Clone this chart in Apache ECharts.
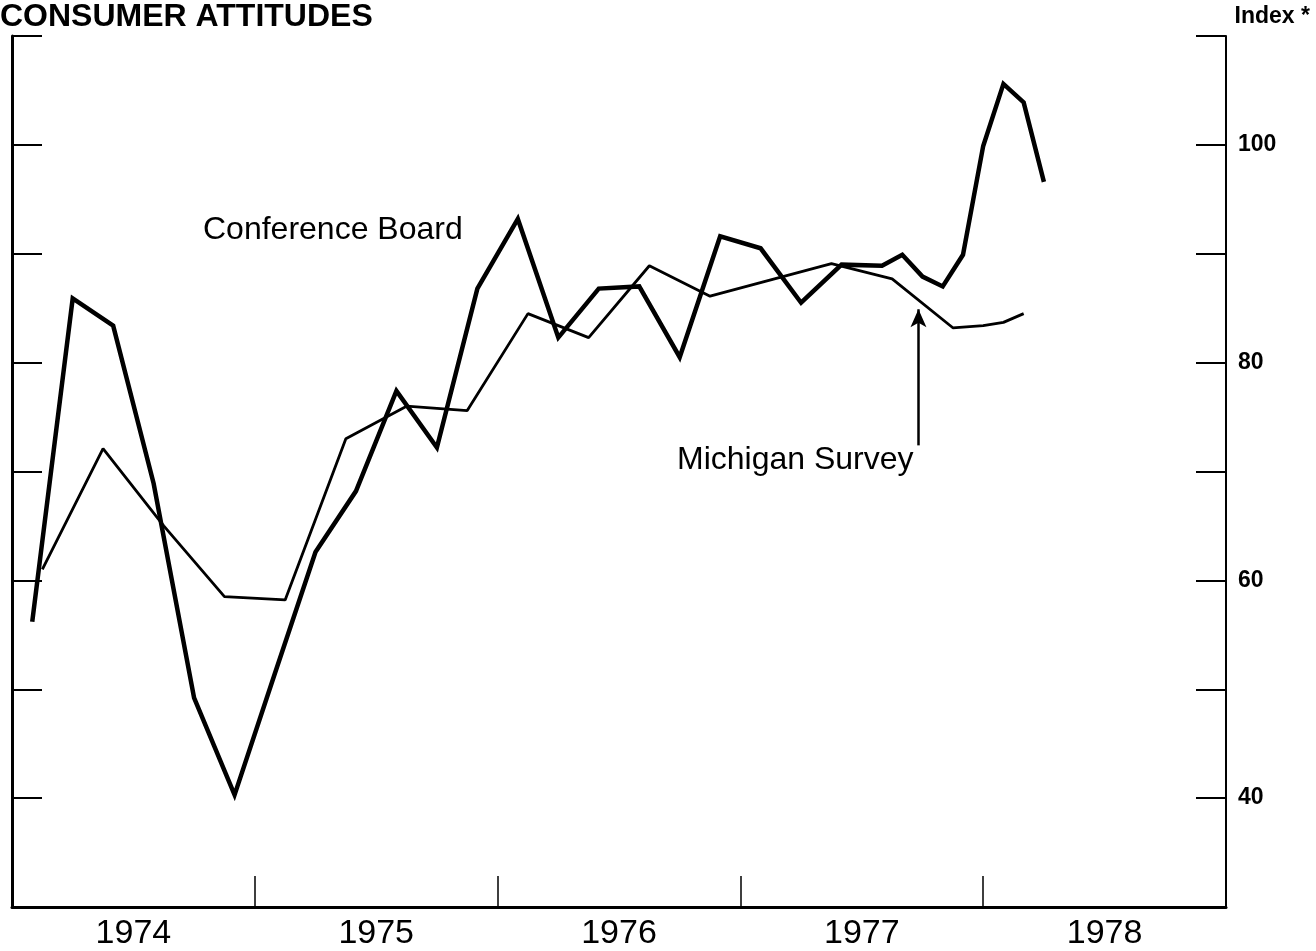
<!DOCTYPE html>
<html>
<head>
<meta charset="utf-8">
<title>Consumer Attitudes</title>
<script src="https://cdn.jsdelivr.net/npm/echarts@6/dist/echarts.min.js"></script>
<style>
  html, body { margin: 0; padding: 0; background: #fff; }
  #chart { width: 1316px; height: 951px; }
</style>
</head>
<body>
<div id="chart"></div>
<script>
// Months since January 1974 (0 = start of 1974)
var cbMonths = [1, 3, 5, 7, 9, 11, 13, 15, 17, 19, 21, 23, 25, 27, 29, 31, 33, 35, 37, 39, 41, 43, 44, 45, 46, 47, 48, 49, 50, 51];
var cbValues = [56.2, 85.9, 83.4, 68.9, 49.2, 40.3, 51.5, 62.6, 68.2, 77.4, 72.2, 86.8, 93.2, 82.3, 86.8, 87.0, 80.5, 91.6, 90.5, 85.5, 89.0, 88.9, 89.9, 87.9, 87.0, 89.9, 99.9, 105.6, 103.9, 96.6];

var miMonths = [1.5, 4.5, 7.5, 10.5, 13.5, 16.5, 19.5, 22.5, 25.5, 28.5, 31.5, 34.5, 37.5, 40.5, 43.5, 46.5, 48, 49, 50];
var miValues = [61.0, 72.1, 65.0, 58.5, 58.2, 73.0, 76.0, 75.6, 84.5, 82.3, 88.9, 86.1, 87.6, 89.1, 87.7, 83.2, 83.4, 83.7, 84.5];

var yearLabels = ['1974', '1975', '1976', '1977', '1978'];
var yearLabelPos = [6, 18, 30, 42, 54];
var yearBoundaries = [12, 24, 36, 48];
var rightLabels = [40, 60, 80, 100];

function pairs(xs, ys) { return xs.map(function (x, i) { return [x, ys[i]]; }); }

var chart = echarts.init(document.getElementById('chart'), null, { renderer: 'canvas' });
var font = '"Liberation Sans", Arial, Helvetica, sans-serif';

chart.setOption({
  animation: false,
  backgroundColor: '#ffffff',
  grid: { left: 12, right: 90, top: 36, bottom: 43, containLabel: false },
  xAxis: {
    type: 'value', min: 0, max: 60,
    splitLine: { show: false },
    axisLine: { show: true, onZero: false, lineStyle: { color: '#000', width: 3 } },
    axisTick: { show: true, inside: true, length: 31, customValues: yearBoundaries, lineStyle: { color: '#000', width: 1.5 } },
    axisLabel: {
      show: true, customValues: yearLabelPos, margin: 10,
      color: '#000', fontFamily: font, fontSize: 34,
      formatter: function (v) { return yearLabels[yearLabelPos.indexOf(v)] || ''; }
    }
  },
  yAxis: [
    {
      type: 'value', position: 'left', min: 30, max: 110, interval: 10,
      splitLine: { show: false },
      axisLine: { show: true, onZero: false, lineStyle: { color: '#000', width: 3 } },
      axisTick: { show: true, inside: true, length: 30, lineStyle: { color: '#000', width: 2 } },
      axisLabel: { show: false }
    },
    {
      type: 'value', position: 'right', min: 30, max: 110, interval: 10,
      splitLine: { show: false },
      axisLine: { show: true, onZero: false, lineStyle: { color: '#000', width: 2 } },
      axisTick: { show: true, inside: true, length: 30, lineStyle: { color: '#000', width: 2 } },
      axisLabel: {
        show: true, customValues: rightLabels, margin: 12,
        color: '#000', fontFamily: font, fontSize: 23, fontWeight: 'bold'
      }
    }
  ],
  series: [
    {
      name: 'Conference Board', type: 'line', yAxisIndex: 0,
      data: pairs(cbMonths, cbValues),
      symbol: 'none', silent: true,
      lineStyle: { color: '#000', width: 4.5, join: 'miter' }
    },
    {
      name: 'Michigan Survey', type: 'line', yAxisIndex: 0,
      data: pairs(miMonths, miValues),
      symbol: 'none', silent: true,
      lineStyle: { color: '#000', width: 2.8 },
      markLine: {
        silent: true, symbol: ['none', 'arrow'], symbolSize: [12, 18],
        label: { show: false },
        lineStyle: { color: '#000', width: 2.5, type: 'solid' },
        data: [[{ coord: [44.8, 72.4] }, { coord: [44.8, 84.9] }]]
      }
    }
  ],
  graphic: [
    { type: 'text', left: 0, top: 1, style: { text: 'CONSUMER ATTITUDES', fill: '#000', font: 'bold 32px ' + font } },
    { type: 'text', right: 6, top: 5, style: { text: 'Index *', fill: '#000', font: 'bold 23px ' + font } },
    { type: 'text', left: 203, top: 214, style: { text: 'Conference Board', fill: '#000', font: '32px ' + font } },
    { type: 'text', left: 677, top: 444, style: { text: 'Michigan Survey', fill: '#000', font: '32px ' + font } }
  ]
});
</script>
</body>
</html>
